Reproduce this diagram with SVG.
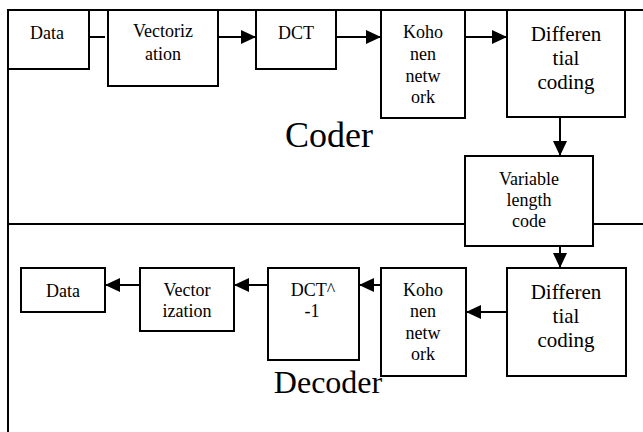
<svg xmlns="http://www.w3.org/2000/svg" width="643" height="432" viewBox="0 0 643 432">
  <style>
    .box { fill: #fff; stroke: #000; stroke-width: 2; }
    .edge { fill: none; stroke: #000; stroke-width: 2; }
    .frame { fill: none; stroke: #000; stroke-width: 2; }
    text { font-family: 'Liberation Serif', Tinos, 'Times New Roman', Times, 'DejaVu Serif', serif; fill: #000; text-anchor: middle; }
    .s { font-size: 18px; }
    .m { font-size: 21px; }
    .big { font-size: 36px; }
    .dec { font-size: 32px; }
  </style>
  <defs>
    <marker id="arrow" markerUnits="userSpaceOnUse" markerWidth="15" markerHeight="14" refX="15" refY="7" orient="auto">
      <path d="M0,0 L15,7 L0,14 Z" fill="#000"/>
    </marker>
  </defs>
  <rect width="643" height="432" fill="#fff"/>

  <!-- frame: top rule, left rule, coder/decoder divider -->
  <g id="frame">
    <line class="frame" x1="8" y1="10" x2="643" y2="10"/>
    <line class="frame" x1="8" y1="10" x2="8" y2="432"/>
    <line class="frame" x1="8" y1="224" x2="465" y2="224"/>
    <line class="frame" x1="593" y1="224" x2="643" y2="224"/>
  </g>

  <g id="connectors">
    <!-- coder chain -->
    <line class="edge" x1="89" y1="37" x2="105" y2="37"/>
    <line class="edge" x1="218" y1="37" x2="256" y2="37" marker-end="url(#arrow)"/>
    <line class="edge" x1="336" y1="37" x2="381" y2="37" marker-end="url(#arrow)"/>
    <line class="edge" x1="465" y1="37" x2="507" y2="37" marker-end="url(#arrow)"/>
    <line class="edge" x1="560" y1="117" x2="560" y2="156" marker-end="url(#arrow)"/>
    <line class="edge" x1="560" y1="246" x2="560" y2="268" marker-end="url(#arrow)"/>
    <!-- decoder chain -->
    <line class="edge" x1="507" y1="312" x2="466" y2="312" marker-end="url(#arrow)"/>
    <line class="edge" x1="381" y1="285" x2="359" y2="285" marker-end="url(#arrow)"/>
    <line class="edge" x1="268" y1="285" x2="234" y2="285" marker-end="url(#arrow)"/>
    <line class="edge" x1="140" y1="285" x2="105" y2="285" marker-end="url(#arrow)"/>
  </g>

  <!-- coder -->
  <g id="enc-data">
    <rect class="box" x="8" y="10" width="81" height="59"/>
    <text class="s" x="47" y="39">Data</text>
  </g>
  <g id="enc-vectorization">
    <rect class="box" x="108" y="10" width="110" height="76"/>
    <text class="s" x="163" y="37">Vectoriz</text>
    <text class="s" x="163" y="60">ation</text>
  </g>
  <g id="enc-dct">
    <rect class="box" x="256" y="10" width="80" height="59"/>
    <text class="s" x="296" y="39">DCT</text>
  </g>
  <g id="enc-kohonen">
    <rect class="box" x="381" y="10" width="84" height="108"/>
    <text class="s" x="423" y="38">Koho</text>
    <text class="s" x="423" y="60">nen</text>
    <text class="s" x="423" y="82">netw</text>
    <text class="s" x="423" y="103">ork</text>
  </g>
  <g id="enc-differential">
    <rect class="box" x="507" y="10" width="118" height="107"/>
    <text class="m" x="566" y="41">Differen</text>
    <text class="m" x="566" y="65">tial</text>
    <text class="m" x="566" y="89">coding</text>
  </g>
  <g id="vlc">
    <rect class="box" x="465" y="156" width="128" height="90"/>
    <text class="s" x="529" y="185">Variable</text>
    <text class="s" x="529" y="206">length</text>
    <text class="s" x="529" y="227">code</text>
  </g>
  <text id="coder-label" class="big" x="329" y="147">Coder</text>

  <!-- decoder -->
  <g id="dec-differential">
    <rect class="box" x="507" y="268" width="119" height="108"/>
    <text class="m" x="566" y="299">Differen</text>
    <text class="m" x="566" y="323">tial</text>
    <text class="m" x="566" y="347">coding</text>
  </g>
  <g id="dec-kohonen">
    <rect class="box" x="381" y="268" width="85" height="108"/>
    <text class="s" x="423" y="296">Koho</text>
    <text class="s" x="423" y="317">nen</text>
    <text class="s" x="423" y="339">netw</text>
    <text class="s" x="423" y="360">ork</text>
  </g>
  <g id="dec-idct">
    <rect class="box" x="268" y="268" width="91" height="92"/>
    <text class="s" x="313" y="296">DCT^</text>
    <text class="s" x="312" y="317">-1</text>
  </g>
  <g id="dec-vectorization">
    <rect class="box" x="140" y="268" width="94" height="63"/>
    <text class="s" x="187" y="296">Vector</text>
    <text class="s" x="187" y="317">ization</text>
  </g>
  <g id="dec-data">
    <rect class="box" x="21" y="268" width="84" height="44"/>
    <text class="s" x="63" y="297">Data</text>
  </g>
  <text id="decoder-label" class="dec" x="328" y="393">Decoder</text>
</svg>
